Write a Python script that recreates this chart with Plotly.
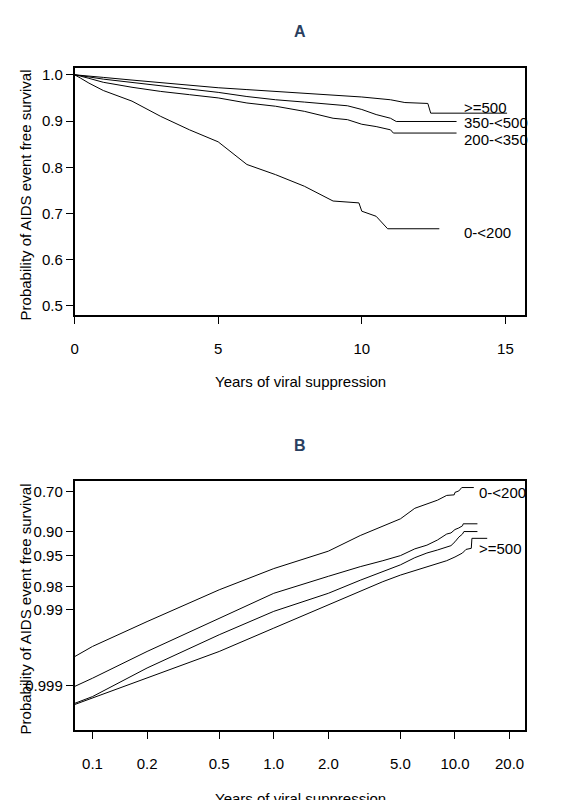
import numpy as np
import plotly.graph_objects as go

# Kaplan-Meier curves: years, survival
groups = ["0-<200", "200-<350", "350-<500", ">=500"]

t_0_200 = [0.08, 0.1, 0.2, 0.5, 1, 2, 3, 4, 5, 6, 7, 8, 9, 9.9, 10, 10.5, 10.9, 12.7]
s_0_200 = [0.9976, 0.99675, 0.9931, 0.982, 0.966, 0.943, 0.910, 0.881, 0.855, 0.806,
           0.784, 0.759, 0.727, 0.723, 0.705, 0.694, 0.667, 0.667]

t_200_350 = [0.08, 0.1, 0.2, 0.5, 1, 2, 3, 4, 5, 6, 7, 8, 9, 9.5, 10, 10.5, 11, 11.1, 13.3]
s_200_350 = [0.99903, 0.99876, 0.99721, 0.99236, 0.9838, 0.973, 0.964, 0.957, 0.950,
             0.939, 0.932, 0.921, 0.906, 0.903, 0.893, 0.888, 0.881, 0.874, 0.874]

t_350_500 = [0.08, 0.1, 0.2, 0.5, 1, 2, 3, 4, 5, 6, 7, 8, 9, 9.5, 10, 10.5, 11, 11.2, 13.3]
s_350_500 = [0.99942, 0.99929, 0.99831, 0.99537, 0.9906, 0.9838, 0.976, 0.969, 0.962,
             0.953, 0.946, 0.941, 0.935, 0.933, 0.925, 0.914, 0.906, 0.899, 0.899]

t_500 = [0.08, 0.1, 0.2, 0.5, 1, 2, 3, 4, 5, 6, 7, 8, 9, 10, 11, 11.5, 12.3, 12.4, 15.06]
s_500 = [0.99944, 0.99932, 0.99876, 0.99721, 0.99434, 0.9886, 0.983, 0.977, 0.972,
         0.968, 0.964, 0.960, 0.957, 0.952, 0.946, 0.940, 0.938, 0.917, 0.917]

curves = [(t_0_200, s_0_200), (t_200_350, s_200_350), (t_350_500, s_350_500), (t_500, s_500)]

# panel labels
label_a_y = [0.660, 0.861, 0.896, 0.930]
label_b_groups = ["0-<200", ">=500"]
label_b_s = [0.7075, 0.9380]

b_ticks = [0.70, 0.90, 0.95, 0.98, 0.99, 0.999]
b_tick_text = ["0.70", "0.90", "0.95", "0.98", "0.99", "0.999"]
b_xticks = [0.1, 0.2, 0.5, 1.0, 2.0, 5.0, 10.0, 20.0]


def cloglog(s):
    return np.log(-np.log(np.asarray(s)))


fig = go.Figure()
for t, s in curves:
    fig.add_trace(go.Scatter(x=[0] + t, y=[1.0] + s, mode="lines",
                             line=dict(color="black", width=1), xaxis="x", yaxis="y"))
    fig.add_trace(go.Scatter(x=t, y=cloglog(s), mode="lines",
                             line=dict(color="black", width=1), xaxis="x2", yaxis="y2"))

font = dict(family="Liberation Sans, Arial", size=15, color="black")
axis_common = dict(showline=True, linecolor="black", linewidth=1.5, mirror=True,
                   ticks="outside", ticklen=7, tickcolor="black", showgrid=False,
                   zeroline=False, tickfont=font)

fig.update_layout(
    width=585, height=800, margin=dict(l=0, r=0, t=0, b=0),
    paper_bgcolor="white", plot_bgcolor="white", showlegend=False,
    xaxis=dict(domain=[0.1077, 0.8838], range=[0, 15.7], tickvals=[0, 5, 10, 15],
               anchor="y", ticklabelstandoff=12, **axis_common),
    yaxis=dict(domain=[0.6175, 0.9275], range=[0.48, 1.015],
               tickvals=[0.5, 0.6, 0.7, 0.8, 0.9, 1.0], ticktext=["0.5", "0.6", "0.7", "0.8", "0.9", "1.0"],
               anchor="x", **axis_common),
    xaxis2=dict(domain=[0.1077, 0.8838], type="log", range=[-1.099, 1.389],
                tickvals=b_xticks, ticktext=[f"{v:.1f}" for v in b_xticks],
                anchor="y2", ticklabelstandoff=12, **axis_common),
    yaxis2=dict(domain=[0.0975, 0.41], range=[-8.27, -0.70],
                tickvals=list(cloglog(b_ticks)), ticktext=b_tick_text,
                anchor="x2", **axis_common),
)

ann = []
for g, y in zip(groups, label_a_y):
    ann.append(dict(x=13.5, y=y, xref="x", yref="y", text=g, showarrow=False,
                    xanchor="left", font=font))
for g, s in zip(label_b_groups, label_b_s):
    ann.append(dict(x=np.log10(13.3), y=float(cloglog(s)), xref="x2", yref="y2", text=g,
                    showarrow=False, xanchor="left", font=font))
for txt, y in [("<b>A</b>", 22), ("<b>B</b>", 437)]:
    ann.append(dict(x=290 / 585, y=1 - y / 800, xref="paper", yref="paper", text=txt,
                    showarrow=False, xanchor="center", yanchor="middle",
                    font=dict(family="Liberation Sans, Arial", size=16)))
for y in [372, 790]:
    ann.append(dict(x=290 / 585, y=1 - y / 800, xref="paper", yref="paper",
                    text="Years of viral suppression", showarrow=False,
                    xanchor="center", yanchor="middle", font=font))
for y in [185, 600]:
    ann.append(dict(x=14 / 585, y=1 - y / 800, xref="paper", yref="paper", textangle=-90,
                    text="Probability of AIDS event free survival", showarrow=False,
                    xanchor="center", yanchor="middle", font=font))
fig.update_layout(annotations=ann)

fig.write_html("out.html")
